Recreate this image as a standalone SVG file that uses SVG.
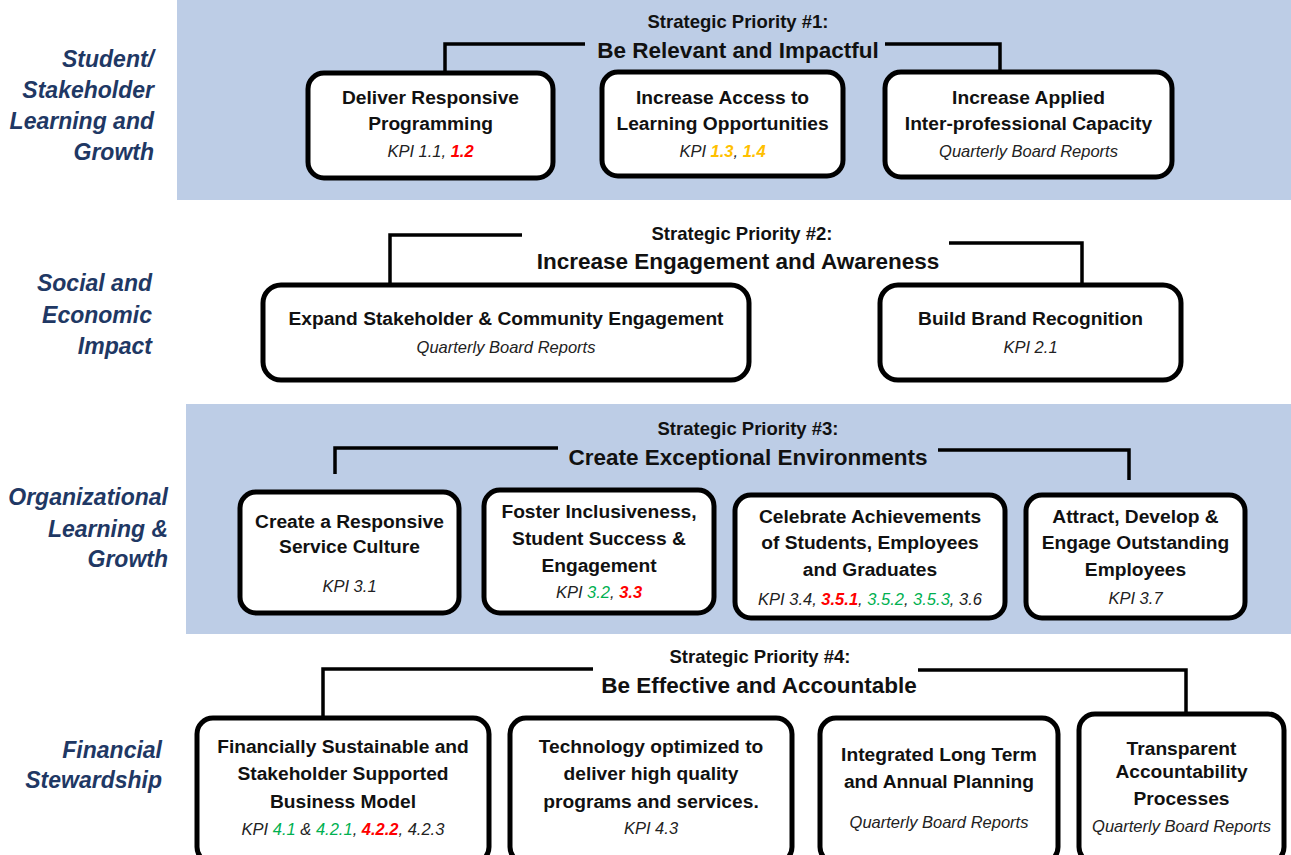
<svg xmlns="http://www.w3.org/2000/svg" width="1291" height="855" viewBox="0 0 1291 855">
<style>
.band{fill:#BDCDE6}
.box{fill:#fff;stroke:#000;stroke-width:5}
.con{fill:none;stroke:#000;stroke-width:3.5}
.sp{font-family:"Liberation Sans",Arial,sans-serif;font-weight:bold;font-size:18.5px;fill:#111;text-anchor:middle}
.pt{font-family:"Liberation Sans",Arial,sans-serif;font-weight:bold;font-size:22.5px;fill:#111;text-anchor:middle}
.bt{font-family:"Liberation Sans",Arial,sans-serif;font-weight:bold;font-size:19.2px;fill:#111;text-anchor:middle}
.kp{font-family:"Liberation Sans",Arial,sans-serif;font-style:italic;font-size:16.5px;fill:#222;text-anchor:middle}
.lb{font-family:"Liberation Sans",Arial,sans-serif;font-style:italic;font-weight:bold;font-size:23px;fill:#1F3864;text-anchor:end}
.r{fill:#FF0000;font-weight:bold}
.o{fill:#FFC000;font-weight:bold}
.g{fill:#00B050}
</style>
<rect class="band" x="177" y="0" width="1114" height="200"/>
<rect class="band" x="186" y="404" width="1105" height="230"/>

<g id="labels">
<text class="lb" x="154" y="67">Student/</text>
<text class="lb" x="154" y="98">Stakeholder</text>
<text class="lb" x="154" y="129">Learning and</text>
<text class="lb" x="154" y="160">Growth</text>
<text class="lb" x="152" y="291">Social and</text>
<text class="lb" x="152" y="323">Economic</text>
<text class="lb" x="152" y="354">Impact</text>
<text class="lb" x="168" y="505">Organizational</text>
<text class="lb" x="168" y="537">Learning &amp;</text>
<text class="lb" x="168" y="567">Growth</text>
<text class="lb" x="162" y="758">Financial</text>
<text class="lb" x="162" y="788">Stewardship</text>
</g>

<g id="connectors">
<polyline class="con" points="585,44 445,44 445,73"/>
<polyline class="con" points="885,44 1000,44 1000,72"/>
<polyline class="con" points="522,235 390,235 390,285"/>
<polyline class="con" points="949,243 1082,243 1082,285"/>
<polyline class="con" points="558,448 335,448 335,474"/>
<polyline class="con" points="938,450 1129,450 1129,480"/>
<polyline class="con" points="593,669 323,669 323,718"/>
<polyline class="con" points="918,670 1186,670 1186,714"/>
</g>

<g id="priority1">
<text class="sp" x="738" y="28">Strategic Priority #1:</text>
<text class="pt" x="738" y="58">Be Relevant and Impactful</text>
</g>
<g id="priority2">
<text class="sp" x="742" y="240">Strategic Priority #2:</text>
<text class="pt" x="738" y="269">Increase Engagement and Awareness</text>
</g>
<g id="priority3">
<text class="sp" x="748" y="435">Strategic Priority #3:</text>
<text class="pt" x="748" y="465">Create Exceptional Environments</text>
</g>
<g id="priority4">
<text class="sp" x="760" y="663">Strategic Priority #4:</text>
<text class="pt" x="759" y="693">Be Effective and Accountable</text>
</g>

<g id="n1-1">
<rect class="box" x="308" y="73" width="245" height="105" rx="16"/>
<text class="bt" x="430.5" y="104">Deliver Responsive</text>
<text class="bt" x="430.5" y="130">Programming</text>
<text class="kp" x="430.5" y="157">KPI 1.1, <tspan class="r">1.2</tspan></text>
</g>
<g id="n1-2">
<rect class="box" x="602" y="72" width="241" height="104" rx="16"/>
<text class="bt" x="722.5" y="104">Increase Access to</text>
<text class="bt" x="722.5" y="130">Learning Opportunities</text>
<text class="kp" x="722.5" y="157">KPI <tspan class="o">1.3</tspan>, <tspan class="o">1.4</tspan></text>
</g>
<g id="n1-3">
<rect class="box" x="885" y="72" width="287" height="105" rx="16"/>
<text class="bt" x="1028.5" y="104">Increase Applied</text>
<text class="bt" x="1028.5" y="130">Inter-professional Capacity</text>
<text class="kp" x="1028.5" y="157">Quarterly Board Reports</text>
</g>

<g id="n2-1">
<rect class="box" x="263" y="285" width="486" height="95" rx="18"/>
<text class="bt" x="506" y="325">Expand Stakeholder &amp; Community Engagement</text>
<text class="kp" x="506" y="353">Quarterly Board Reports</text>
</g>
<g id="n2-2">
<rect class="box" x="880" y="285" width="301" height="95" rx="18"/>
<text class="bt" x="1030.5" y="325">Build Brand Recognition</text>
<text class="kp" x="1030.5" y="353">KPI 2.1</text>
</g>

<g id="n3-1">
<rect class="box" x="240" y="492" width="219" height="121" rx="16"/>
<text class="bt" x="349.5" y="528">Create a Responsive</text>
<text class="bt" x="349.5" y="553">Service Culture</text>
<text class="kp" x="349.5" y="592">KPI 3.1</text>
</g>
<g id="n3-2">
<rect class="box" x="484" y="490" width="230" height="123" rx="16"/>
<text class="bt" x="599" y="518">Foster Inclusiveness,</text>
<text class="bt" x="599" y="545">Student Success &amp;</text>
<text class="bt" x="599" y="572">Engagement</text>
<text class="kp" x="599" y="598">KPI <tspan class="g">3.2</tspan>, <tspan class="r">3.3</tspan></text>
</g>
<g id="n3-3">
<rect class="box" x="735" y="495" width="270" height="123" rx="16"/>
<text class="bt" x="870" y="523">Celebrate Achievements</text>
<text class="bt" x="870" y="549">of Students, Employees</text>
<text class="bt" x="870" y="576">and Graduates</text>
<text class="kp" x="870" y="605">KPI 3.4, <tspan class="r">3.5.1</tspan>, <tspan class="g">3.5.2</tspan>, <tspan class="g">3.5.3</tspan>, 3.6</text>
</g>
<g id="n3-4">
<rect class="box" x="1026" y="495" width="219" height="123" rx="16"/>
<text class="bt" x="1135.5" y="523">Attract, Develop &amp;</text>
<text class="bt" x="1135.5" y="549">Engage Outstanding</text>
<text class="bt" x="1135.5" y="576">Employees</text>
<text class="kp" x="1135.5" y="604">KPI 3.7</text>
</g>

<g id="n4-1">
<rect class="box" x="197" y="718" width="292" height="145" rx="16"/>
<text class="bt" x="343" y="753">Financially Sustainable and</text>
<text class="bt" x="343" y="780">Stakeholder Supported</text>
<text class="bt" x="343" y="808">Business Model</text>
<text class="kp" x="343" y="835">KPI <tspan class="g">4.1</tspan> &amp; <tspan class="g">4.2.1</tspan>, <tspan class="r">4.2.2</tspan>, 4.2.3</text>
</g>
<g id="n4-2">
<rect class="box" x="510" y="718" width="282" height="145" rx="16"/>
<text class="bt" x="651" y="753">Technology optimized to</text>
<text class="bt" x="651" y="780">deliver high quality</text>
<text class="bt" x="651" y="808">programs and services.</text>
<text class="kp" x="651" y="834">KPI 4.3</text>
</g>
<g id="n4-3">
<rect class="box" x="820" y="718" width="238" height="145" rx="16"/>
<text class="bt" x="939" y="761">Integrated Long Term</text>
<text class="bt" x="939" y="788">and Annual Planning</text>
<text class="kp" x="939" y="828">Quarterly Board Reports</text>
</g>
<g id="n4-4">
<rect class="box" x="1079" y="714" width="205" height="149" rx="16"/>
<text class="bt" x="1181.5" y="755">Transparent</text>
<text class="bt" x="1181.5" y="778">Accountability</text>
<text class="bt" x="1181.5" y="805">Processes</text>
<text class="kp" x="1181.5" y="832">Quarterly Board Reports</text>
</g>
</svg>
